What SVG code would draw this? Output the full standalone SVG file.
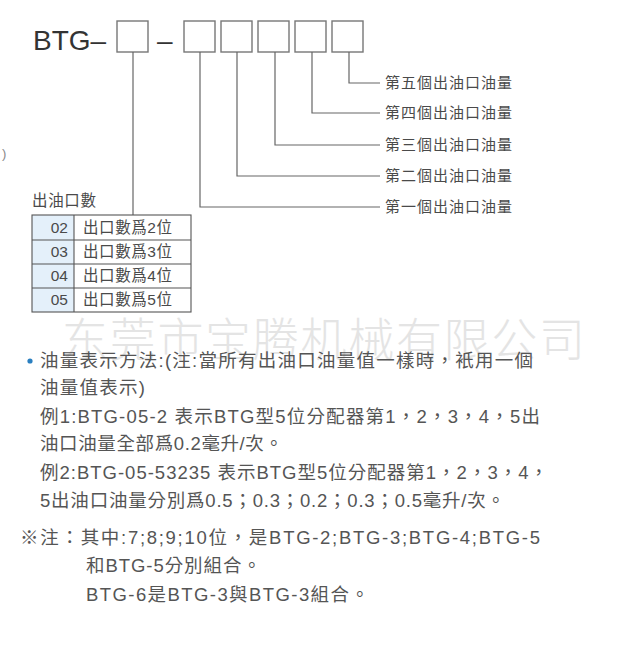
<svg xmlns="http://www.w3.org/2000/svg" width="637" height="665" viewBox="0 0 637 665">
<style>
.lbl{font-family:"Liberation Sans","Noto Sans CJK TC",sans-serif;font-size:15px;fill:#4a4a4a;}
.tbl{font-family:"Liberation Sans","Noto Sans CJK TC",sans-serif;font-size:15.5px;fill:#4a4a4a;}
.body{font-family:"Liberation Sans","Noto Sans CJK TC",sans-serif;font-size:18.5px;fill:#555;}
.box{fill:#fff;stroke:#777;stroke-width:1.4;}
.conn{fill:none;stroke:#666;stroke-width:1.2;}
.cell{stroke:#555;stroke-width:1.1;}
.wm{font-family:"Noto Sans CJK SC",sans-serif;font-weight:300;font-size:46px;fill:#e4e4e4;}
</style>
<rect width="637" height="665" fill="#fff"/>
<text class="wm" x="62" y="356" textLength="523" lengthAdjust="spacing">东莞市宝腾机械有限公司</text>
<text x="2" y="158" font-family="Liberation Sans,sans-serif" font-size="13" fill="#888">)</text>
<g id="code">
<text x="33" y="50" font-family="Liberation Sans,sans-serif" font-size="28" fill="#333">BTG–</text>
<text x="157" y="50" font-family="Liberation Sans,sans-serif" font-size="28" fill="#333">–</text>
</g>
<g id="box1"><rect class="box" x="117" y="21" width="31" height="31"/></g>
<g id="box2"><rect class="box" x="184" y="21" width="31" height="31"/></g>
<g id="box3"><rect class="box" x="221" y="21" width="31" height="31"/></g>
<g id="box4"><rect class="box" x="258" y="21" width="31" height="31"/></g>
<g id="box5"><rect class="box" x="295" y="21" width="31" height="31"/></g>
<g id="box6"><rect class="box" x="332" y="21" width="31" height="31"/></g>
<g id="connectors">
<polyline class="conn" points="133,52 133,215"/>
<polyline class="conn" points="200,52 200,207 380,207"/>
<polyline class="conn" points="237,52 237,176 380,176"/>
<polyline class="conn" points="275,52 275,145 380,145"/>
<polyline class="conn" points="312,52 312,113 380,113"/>
<polyline class="conn" points="349,52 349,83 380,83"/>
</g>
<g id="labels">
<text class="lbl" x="385" y="88" textLength="127" lengthAdjust="spacing">第五個出油口油量</text>
<text class="lbl" x="385" y="118" textLength="127" lengthAdjust="spacing">第四個出油口油量</text>
<text class="lbl" x="385" y="150" textLength="127" lengthAdjust="spacing">第三個出油口油量</text>
<text class="lbl" x="385" y="181" textLength="127" lengthAdjust="spacing">第二個出油口油量</text>
<text class="lbl" x="385" y="212" textLength="127" lengthAdjust="spacing">第一個出油口油量</text>
</g>
<g id="table">
<text class="tbl" x="32" y="206" textLength="64" lengthAdjust="spacing">出油口數</text>
<rect x="32" y="215" width="42" height="97" fill="#e4f0fa"/>
<rect x="74" y="215" width="117" height="97" fill="#fff"/>
<rect class="cell" x="32" y="215" width="159" height="97" fill="none"/>
<line class="cell" x1="74" y1="215" x2="74" y2="312"/>
<line class="cell" x1="32" y1="240" x2="191" y2="240"/>
<line class="cell" x1="32" y1="264" x2="191" y2="264"/>
<line class="cell" x1="32" y1="288" x2="191" y2="288"/>
<g class="tbl" text-anchor="end">
<text x="68" y="233">02</text>
<text x="68" y="257">03</text>
<text x="68" y="281">04</text>
<text x="68" y="305">05</text>
</g>
<g class="tbl">
<text x="83" y="233" textLength="89" lengthAdjust="spacing">出口數爲2位</text>
<text x="83" y="257" textLength="89" lengthAdjust="spacing">出口數爲3位</text>
<text x="83" y="281" textLength="89" lengthAdjust="spacing">出口數爲4位</text>
<text x="83" y="305" textLength="89" lengthAdjust="spacing">出口數爲5位</text>
</g>
</g>
<g id="notes">
<circle cx="30" cy="361" r="2.6" fill="#2a7fc0"/>
<text class="body" x="40" y="367" textLength="493" lengthAdjust="spacing">油量表示方法:(注:當所有出油口油量值一樣時，衹用一個</text>
<text class="body" x="40" y="394" textLength="105" lengthAdjust="spacing">油量值表示)</text>
<text class="body" x="40" y="423" textLength="500" lengthAdjust="spacing">例1:BTG-05-2 表示BTG型5位分配器第1，2，3，4，5出</text>
<text class="body" x="40" y="450" textLength="243" lengthAdjust="spacing">油口油量全部爲0.2毫升/次。</text>
<text class="body" x="40" y="479" textLength="508" lengthAdjust="spacing">例2:BTG-05-53235 表示BTG型5位分配器第1，2，3，4，</text>
<text class="body" x="40" y="507" textLength="465" lengthAdjust="spacing">5出油口油量分別爲0.5；0.3；0.2；0.3；0.5毫升/次。</text>
<text class="body" x="20" y="544" textLength="520" lengthAdjust="spacing">※注：其中:7;8;9;10位，是BTG-2;BTG-3;BTG-4;BTG-5</text>
<text class="body" x="86" y="572" textLength="175" lengthAdjust="spacing">和BTG-5分別組合。</text>
<text class="body" x="86" y="601" textLength="283" lengthAdjust="spacing">BTG-6是BTG-3與BTG-3組合。</text>
</g>
</svg>
